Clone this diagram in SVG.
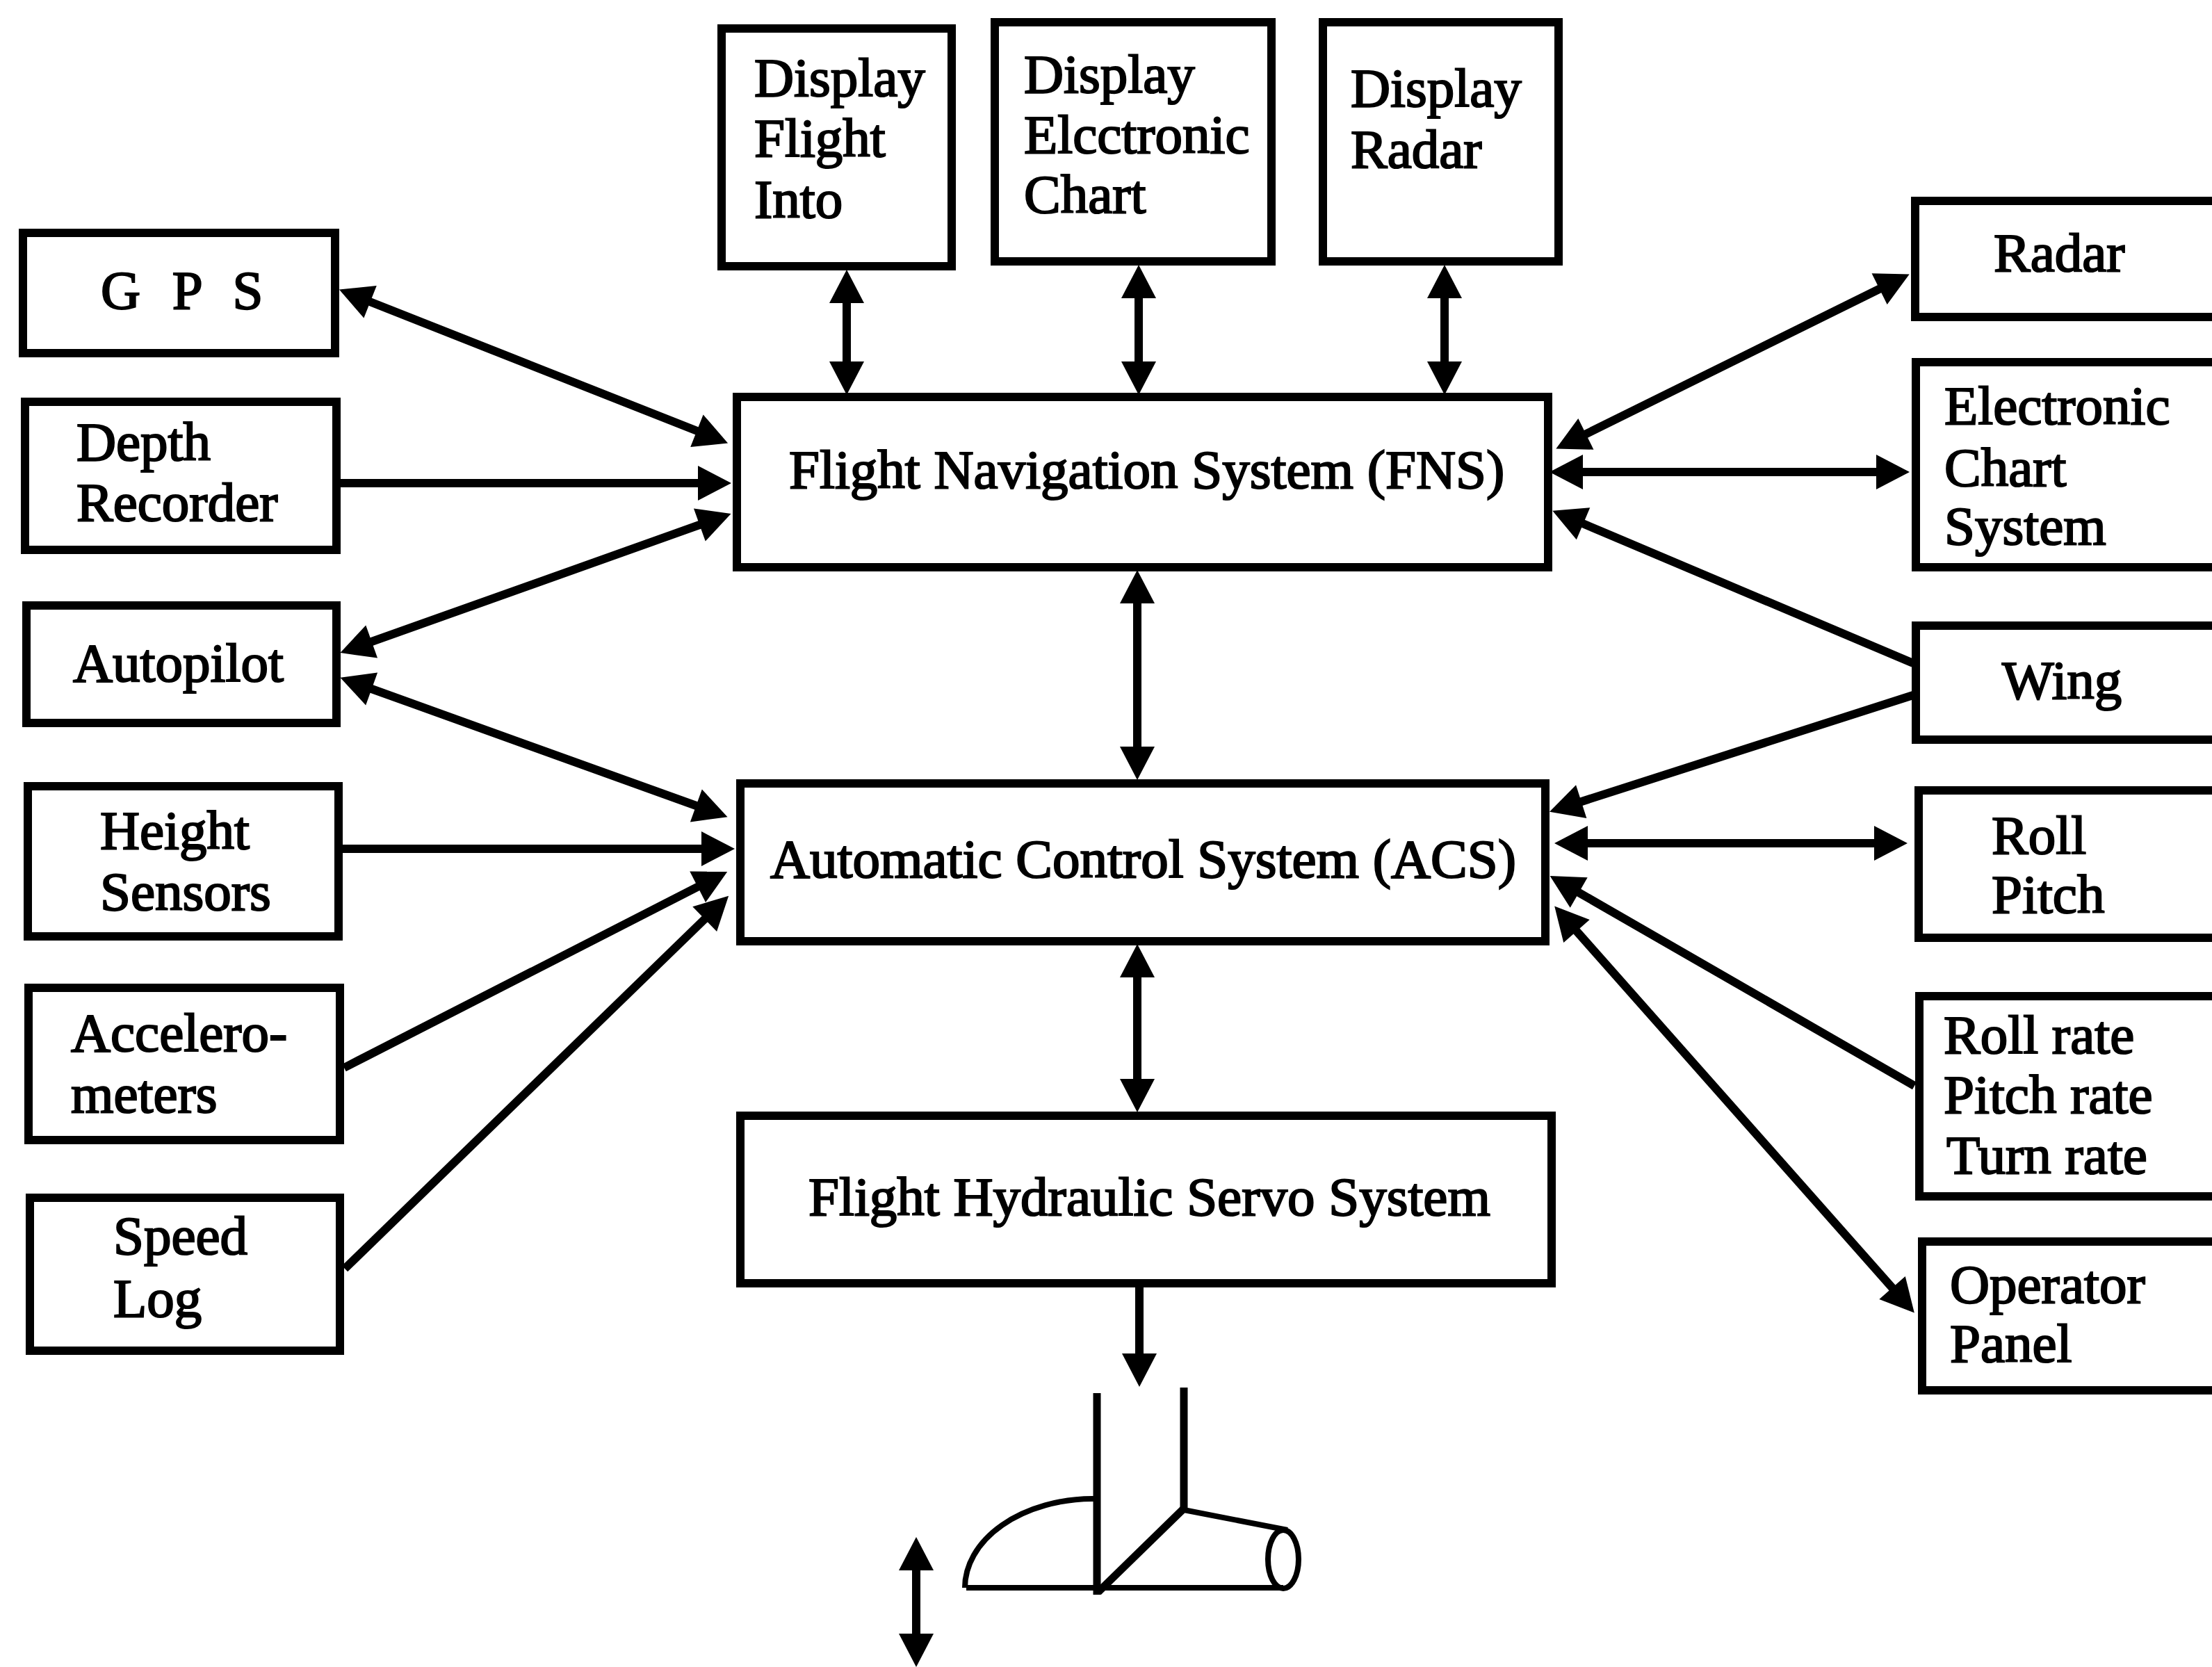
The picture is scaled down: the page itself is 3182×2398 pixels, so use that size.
<svg xmlns="http://www.w3.org/2000/svg" width="3182" height="2398" viewBox="0 0 3182 2398">
  <style>
    .box { fill: #fff; stroke: #000; stroke-width: 12; }
    .lbl { font-family: "Liberation Serif", "Times New Roman", serif; font-size: 79px; fill: #000; stroke: #000; stroke-width: 2.2; }
    .wire { fill: none; stroke: #000; stroke-width: 12; }
    .bi { marker-start: url(#head); marker-end: url(#head); }
    .uni { marker-end: url(#head); }
    .fig { fill: none; stroke: #000; stroke-width: 11; stroke-linejoin: round; }
    .figthin { fill: none; stroke: #000; stroke-width: 8; }
  </style>
  <defs>
    <marker id="head" markerUnits="userSpaceOnUse" markerWidth="60" markerHeight="60" refX="6" refY="25" orient="auto-start-reverse" overflow="visible">
      <path d="M0,0 L48,25 L0,50 z" fill="#000"/>
    </marker>
  </defs>
  <rect width="3182" height="2398" fill="#fff"/>

  <!-- connectors -->
  <g id="connectors">
    <line class="wire bi" x1="527" y1="432" x2="1008" y2="622"/>
    <line class="wire uni" x1="490" y1="695" x2="1010" y2="695"/>
    <line class="wire bi" x1="529" y1="925" x2="1012" y2="753"/>
    <line class="wire bi" x1="529" y1="989" x2="1007" y2="1161"/>
    <line class="wire uni" x1="493" y1="1221" x2="1015" y2="1221"/>
    <line class="wire uni" x1="495" y1="1536" x2="1009" y2="1273"/>
    <line class="wire uni" x1="496" y1="1825" x2="1018" y2="1318"/>
    <line class="wire bi" x1="1218" y1="430" x2="1218" y2="526"/>
    <line class="wire bi" x1="1638" y1="423" x2="1638" y2="526"/>
    <line class="wire bi" x1="2078" y1="423" x2="2078" y2="526"/>
    <line class="wire bi" x1="1636" y1="862" x2="1636" y2="1080"/>
    <line class="wire bi" x1="1636" y1="1400" x2="1636" y2="1558"/>
    <line class="wire uni" x1="1639" y1="1852" x2="1639" y2="1953"/>
    <line class="wire bi" x1="2276" y1="627" x2="2709" y2="413"/>
    <line class="wire bi" x1="2271" y1="679" x2="2705" y2="679"/>
    <line class="wire uni" x1="2752" y1="954" x2="2272" y2="751"/>
    <line class="wire uni" x1="2752" y1="1000" x2="2269" y2="1155"/>
    <line class="wire bi" x1="2278" y1="1213" x2="2702" y2="1213"/>
    <line class="wire uni" x1="2754" y1="1562" x2="2266" y2="1281"/>
    <line class="wire bi" x1="2264" y1="1335" x2="2726" y2="1857"/>
    <line class="wire bi" x1="1318" y1="2253" x2="1318" y2="2356"/>
  </g>

  <!-- left column -->
  <g id="gps">
    <rect class="box" x="33" y="335" width="449" height="173"/>
    <text class="lbl" x="145" y="444" font-size="84" letter-spacing="13">G P S</text>
  </g>
  <g id="depth-recorder">
    <rect class="box" x="36" y="578" width="448" height="213"/>
    <text class="lbl" x="110" y="662">Depth</text>
    <text class="lbl" x="110" y="749">Recorder</text>
  </g>
  <g id="autopilot">
    <rect class="box" x="38" y="871" width="446" height="169"/>
    <text class="lbl" x="105" y="980">Autopilot</text>
  </g>
  <g id="height-sensors">
    <rect class="box" x="40" y="1131" width="447" height="216"/>
    <text class="lbl" x="144" y="1221">Height</text>
    <text class="lbl" x="144" y="1309">Sensors</text>
  </g>
  <g id="accelerometers">
    <rect class="box" x="41" y="1421" width="448" height="219"/>
    <text class="lbl" x="102" y="1512">Accelero-</text>
    <text class="lbl" x="102" y="1600">meters</text>
  </g>
  <g id="speed-log">
    <rect class="box" x="43" y="1723" width="446" height="220"/>
    <text class="lbl" x="163" y="1804">Speed</text>
    <text class="lbl" x="163" y="1894">Log</text>
  </g>

  <!-- displays -->
  <g id="display-flight-info">
    <rect class="box" x="1038" y="41" width="331" height="342"/>
    <text class="lbl" x="1085" y="138">Display</text>
    <text class="lbl" x="1085" y="225">Flight</text>
    <text class="lbl" x="1085" y="313">Into</text>
  </g>
  <g id="display-electronic-chart">
    <rect class="box" x="1431" y="32" width="398" height="344"/>
    <text class="lbl" x="1473" y="133">Display</text>
    <text class="lbl" x="1473" y="220">Elcctronic</text>
    <text class="lbl" x="1473" y="306">Chart</text>
  </g>
  <g id="display-radar">
    <rect class="box" x="1903" y="32" width="339" height="344"/>
    <text class="lbl" x="1943" y="153">Display</text>
    <text class="lbl" x="1943" y="241">Radar</text>
  </g>

  <!-- central systems -->
  <g id="fns">
    <rect class="box" x="1060" y="571" width="1167" height="245"/>
    <text class="lbl" x="1135" y="702">Flight Navigation System (FNS)</text>
  </g>
  <g id="acs">
    <rect class="box" x="1065" y="1127" width="1158" height="227"/>
    <text class="lbl" x="1108" y="1262">Automatic Control System (ACS)</text>
  </g>
  <g id="servo">
    <rect class="box" x="1065" y="1605" width="1167" height="241"/>
    <text class="lbl" x="1163" y="1748">Flight Hydraulic Servo System</text>
  </g>

  <!-- right column -->
  <g id="radar">
    <rect class="box" x="2755" y="289" width="600" height="167"/>
    <text class="lbl" x="2868" y="390">Radar</text>
  </g>
  <g id="electronic-chart-system">
    <rect class="box" x="2756" y="521" width="600" height="295"/>
    <text class="lbl" x="2797" y="610">Electronic</text>
    <text class="lbl" x="2797" y="699">Chart</text>
    <text class="lbl" x="2797" y="783">System</text>
  </g>
  <g id="wing">
    <rect class="box" x="2756" y="900" width="600" height="164"/>
    <text class="lbl" x="2880" y="1005">Wing</text>
  </g>
  <g id="roll-pitch">
    <rect class="box" x="2760" y="1137" width="600" height="212"/>
    <text class="lbl" x="2865" y="1228">Roll</text>
    <text class="lbl" x="2865" y="1313">Pitch</text>
  </g>
  <g id="rates">
    <rect class="box" x="2761" y="1433" width="600" height="288"/>
    <text class="lbl" x="2796" y="1515">Roll rate</text>
    <text class="lbl" x="2796" y="1601">Pitch rate</text>
    <text class="lbl" x="2800" y="1688">Turn rate</text>
  </g>
  <g id="operator-panel">
    <rect class="box" x="2765" y="1786" width="600" height="214"/>
    <text class="lbl" x="2805" y="1874">Operator</text>
    <text class="lbl" x="2805" y="1959">Panel</text>
  </g>

  <!-- hydrofoil sketch -->
  <g id="foil">
    <line class="fig" x1="1578" y1="2004" x2="1578" y2="2294"/>
    <line class="fig" x1="1703" y1="1996" x2="1703" y2="2172"/>
    <line class="fig" x1="1703" y1="2170" x2="1580" y2="2290"/>
    <line class="figthin" x1="1390" y1="2284" x2="1846" y2="2284"/>
    <path class="figthin" d="M1388,2284 A185,128 0 0 1 1571,2156 L1578,2156"/>
    <line class="figthin" x1="1703" y1="2172" x2="1852" y2="2201"/>
    <ellipse class="figthin" cx="1846" cy="2243" rx="22" ry="42"/>
  </g>
</svg>
